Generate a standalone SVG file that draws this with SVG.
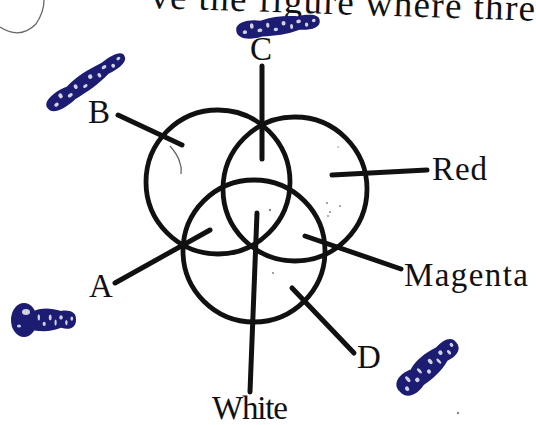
<svg xmlns="http://www.w3.org/2000/svg" width="536" height="425" viewBox="0 0 536 425">
<style>
.ring{fill:none;stroke:#111;stroke-width:4.8}
.lead{stroke:#111;stroke-width:5;stroke-linecap:round;fill:none}
.lbl{font-family:"Liberation Serif","Times New Roman",serif;font-size:33px;fill:#111}
.head{font-family:"Liberation Serif","Times New Roman",serif;font-size:37px;fill:#111}
.ink{fill:#1c1c72}
.loop{fill:#fff;opacity:0.8}
.speck{fill:#888}
.faint{fill:none;stroke:#666;stroke-width:1.3}
</style>
<defs>
<g id="scribble">
<path class="ink" d="M -50 0 C -51 -9 -32 -10 -20 -7 C -5 -10 10 -9 25 -7 C 40 -8 51 -6 50 0 C 50 6 40 8 25 6 C 10 9 -5 9 -20 8 C -32 10 -50 9 -50 0 Z"/>
<ellipse class="loop" cx="-40" cy="2" rx="2.6" ry="1.8"/>
<ellipse class="loop" cx="-31" cy="-3" rx="2.2" ry="2.6"/>
<ellipse class="loop" cx="-22" cy="2" rx="3" ry="1.7"/>
<ellipse class="loop" cx="-12" cy="-2" rx="2" ry="2.4"/>
<ellipse class="loop" cx="-3" cy="3" rx="2.6" ry="1.6"/>
<ellipse class="loop" cx="7" cy="-2" rx="2.4" ry="2.2"/>
<ellipse class="loop" cx="16" cy="2" rx="1.8" ry="2.4"/>
<ellipse class="loop" cx="25" cy="-2" rx="2.8" ry="1.7"/>
<ellipse class="loop" cx="34" cy="2" rx="2" ry="2"/>
<ellipse class="loop" cx="43" cy="-1" rx="2.2" ry="1.6"/>
</g>
</defs>
<rect width="536" height="425" fill="#fff"/>

<g id="header">
<text class="head" x="150" y="8" transform="rotate(1.9 150 8)" textLength="385" lengthAdjust="spacing">ve the figure where thre</text>
<path class="faint" d="M 0 27 Q 20 40 36 24 Q 44 12 44 0" stroke-width="1.6"/>
</g>

<g id="circle-left"><circle class="ring" cx="218" cy="182" r="72"/></g>
<g id="circle-right"><circle class="ring" cx="295" cy="189" r="72"/></g>
<g id="circle-bottom"><circle class="ring" cx="254" cy="251" r="71"/></g>

<g id="connectors">
<line class="lead" x1="262" y1="66" x2="262" y2="159"/>
<line class="lead" x1="118" y1="115" x2="182" y2="145"/>
<line class="lead" x1="332" y1="175" x2="427" y2="170"/>
<line class="lead" x1="305" y1="236" x2="401" y2="269"/>
<line class="lead" x1="115" y1="283" x2="210" y2="230"/>
<line class="lead" x1="257" y1="213" x2="250" y2="392"/>
<line class="lead" x1="292" y1="288" x2="354" y2="353"/>
</g>

<g id="label-C"><text class="lbl" x="261" y="60" text-anchor="middle">C</text></g>
<g id="label-B"><text class="lbl" x="88" y="123">B</text></g>
<g id="label-Red"><text class="lbl" x="432" y="180" textLength="55">Red</text></g>
<g id="label-A"><text class="lbl" x="89" y="297">A</text></g>
<g id="label-Magenta"><text class="lbl" x="404" y="286" textLength="124">Magenta</text></g>
<g id="label-D"><text class="lbl" x="357" y="368">D</text></g>
<g id="label-White"><text class="lbl" x="212" y="419" textLength="76">White</text></g>

<g id="marks">
<path class="faint" d="M 170 146 Q 178 155 180 163 Q 182 168 181 174"/>
<circle class="speck" cx="270" cy="210" r="1.2"/>
<circle class="speck" cx="327" cy="203" r="1"/>
<circle class="speck" cx="340" cy="206" r="1"/>
<circle class="speck" cx="330" cy="212" r="1"/>
<circle class="speck" cx="328" cy="216" r="0.9"/>
<circle class="speck" cx="273" cy="273" r="1"/>
<circle class="speck" cx="338" cy="147" r="0.8"/>
<circle class="speck" cx="458" cy="413" r="1.2"/>
</g>

<g id="scribbles">
<use href="#scribble" transform="translate(278 26) rotate(-7) scale(0.84 1.05)"/>
<use href="#scribble" transform="translate(86 82) rotate(-34.5) scale(0.93 1)"/>
<use href="#scribble" transform="translate(46 320) scale(0.6 1.3)"/>
<ellipse class="ink" cx="24" cy="320" rx="13" ry="17"/>
<ellipse class="loop" cx="26" cy="312" rx="4" ry="3"/>
<ellipse class="loop" cx="19" cy="326" rx="2" ry="1.6"/>
<use href="#scribble" transform="translate(428 367) rotate(-41) scale(0.75 1.35)"/>
</g>
</svg>
